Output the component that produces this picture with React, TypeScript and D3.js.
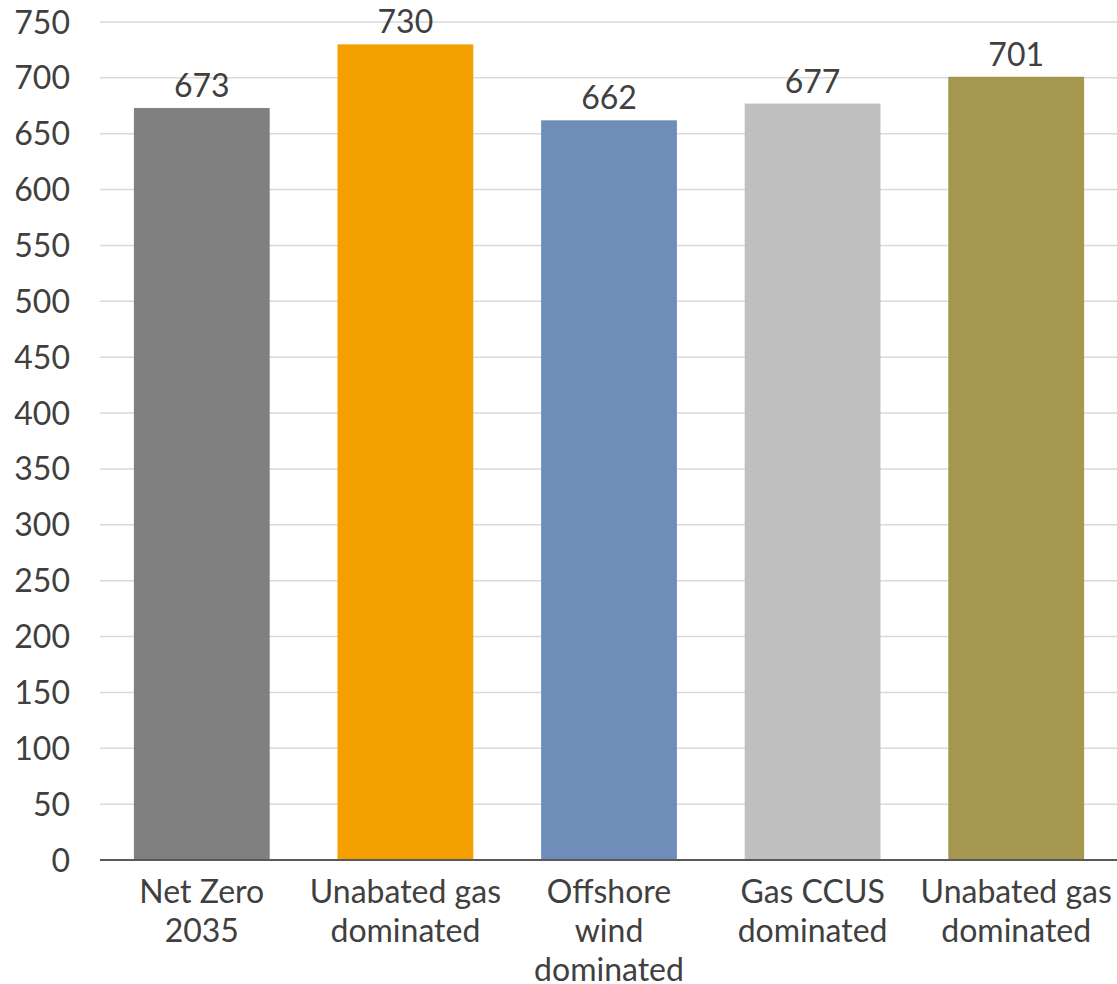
import React from "react";
import * as d3 from "d3";

const categories: string[][] = [
  ["Net Zero", "2035"],
  ["Unabated gas", "dominated"],
  ["Offshore", "wind", "dominated"],
  ["Gas CCUS", "dominated"],
  ["Unabated gas", "dominated"],
];
const values: number[] = [673, 730, 662, 677, 701];
const barColors: string[] = ["#808080", "#F4A000", "#6E8DB9", "#C0C0C0", "#A6974F"];
const yTicks: number[] = d3.range(0, 751, 50);

const W = 1117;
const H = 984;
const left = 100;
const right = 1118;
const top = 22;
const bottom = 860;
const font = "Lato, 'Open Sans', sans-serif";
const fontSize = 32;
const textColor = "#404040";

export default function App() {
  const x = d3
    .scaleBand<number>()
    .domain(values.map((_, i) => i))
    .range([left, right])
    .paddingInner(0.333)
    .paddingOuter(0.1665);
  const y = d3.scaleLinear().domain([0, 750]).range([bottom, top]);

  return (
    <svg
      width={W}
      height={H}
      style={{ position: "absolute", left: 0, top: 0, background: "#fff" }}
    >
      {yTicks.map((t) => (
        <g key={t}>
          {t > 0 && (
            <line x1={left} x2={W} y1={y(t)} y2={y(t)} stroke="#d9d9d9" strokeWidth={1.5} />
          )}
          <text
            x={70}
            y={y(t)}
            dy="0.36em"
            textAnchor="end"
            fontFamily={font}
            fontSize={fontSize}
            fill={textColor}
          >
            {t}
          </text>
        </g>
      ))}
      {values.map((v, i) => (
        <g key={i}>
          <rect
            x={x(i)}
            y={y(v)}
            width={x.bandwidth()}
            height={y(0) - y(v)}
            fill={barColors[i]}
          />
          <text
            x={(x(i) as number) + x.bandwidth() / 2}
            y={y(v) - 11}
            textAnchor="middle"
            fontFamily={font}
            fontSize={fontSize}
            fill={textColor}
          >
            {v}
          </text>
          {categories[i].map((line, j) => (
            <text
              key={j}
              x={(x(i) as number) + x.bandwidth() / 2}
              y={903 + j * 39}
              textAnchor="middle"
              fontFamily={font}
              fontSize={fontSize}
              fill={textColor}
            >
              {line}
            </text>
          ))}
        </g>
      ))}
      <line x1={left} x2={W} y1={y(0)} y2={y(0)} stroke="#595959" strokeWidth={2} />
    </svg>
  );
}
